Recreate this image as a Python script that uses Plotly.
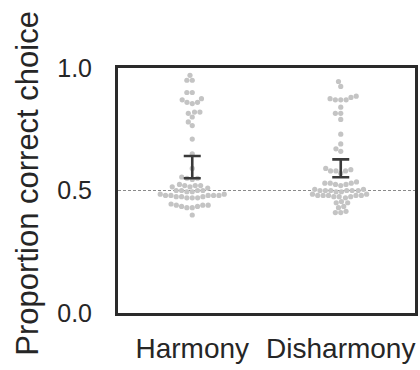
import numpy as np
import plotly.graph_objects as go

categories = ["Harmony", "Disharmony"]

harmony = [0.97, 0.95, 0.95, 0.90, 0.90, 0.875, 0.87, 0.86, 0.86, 0.855,
           0.82, 0.82, 0.815, 0.80, 0.78, 0.765,
           0.71, 0.65, 0.59,
           0.555, 0.55, 0.55, 0.545,
           0.525, 0.52, 0.52, 0.52, 0.515, 0.515, 0.51,
           0.50, 0.50, 0.50, 0.50, 0.495, 0.495,
           0.485, 0.485, 0.48, 0.48, 0.48, 0.48, 0.48, 0.475, 0.475, 0.475, 0.47, 0.47, 0.47,
           0.445, 0.44, 0.44, 0.44, 0.435, 0.435, 0.43, 0.43,
           0.40]

disharmony = [0.945, 0.925,
              0.885, 0.875, 0.87, 0.87, 0.87, 0.88,
              0.84, 0.815, 0.815, 0.79,
              0.73, 0.69, 0.67, 0.66,
              0.59, 0.58, 0.58, 0.58, 0.585, 0.57,
              0.535, 0.53, 0.53, 0.525, 0.525, 0.53, 0.52,
              0.505, 0.50, 0.50, 0.50, 0.50, 0.50, 0.495, 0.495, 0.50, 0.505,
              0.485, 0.48, 0.48, 0.48, 0.48, 0.475, 0.475, 0.48, 0.485, 0.47, 0.475,
              0.455, 0.45, 0.45,
              0.435, 0.43,
              0.415, 0.41, 0.41]

ci_low = [0.550, 0.554]
ci_high = [0.641, 0.627]

chance_level = 0.5

# geometry used by the swarm layout (pixels)
PLOT_W, PLOT_H = 297, 245
X_RANGE = [-0.5, 1.5]
Y_RANGE = [0.0, 1.0]
PX_PER_X = PLOT_W / (X_RANGE[1] - X_RANGE[0])
PX_PER_Y = PLOT_H / (Y_RANGE[1] - Y_RANGE[0])
DOT = 5.4


def beeswarm(vals, d=DOT):
    vals = np.asarray(vals, float)
    ys = vals * PX_PER_Y
    order = np.argsort(ys, kind="stable")
    xs = np.zeros(len(vals))
    placed = []
    for i in order:
        y = ys[i]
        neigh = [(px, py) for px, py in placed if abs(py - y) < d]
        cands = [0.0]
        for px, py in neigh:
            dx = np.sqrt(max(d * d - (py - y) ** 2, 0.0))
            cands += [px - dx, px + dx]
        cands = sorted(cands, key=lambda c: (abs(c), c))
        for c in cands:
            if all((c - px) ** 2 + (y - py) ** 2 >= d * d - 1e-6 for px, py in neigh):
                xs[i] = c
                break
        placed.append((xs[i], y))
    return xs / PX_PER_X


fig = go.Figure()

for k, vals in enumerate([harmony, disharmony]):
    off = beeswarm(vals)
    fig.add_trace(go.Scatter(
        x=k + off, y=vals, mode="markers",
        marker=dict(size=5.2, color="#c4c4c4", line=dict(width=0)),
        showlegend=False, hoverinfo="y"))

mid = [(a + b) / 2 for a, b in zip(ci_low, ci_high)]
fig.add_trace(go.Scatter(
    x=[0, 1], y=mid, mode="markers",
    marker=dict(size=1, color="rgba(0,0,0,0)"),
    error_y=dict(type="data", symmetric=False,
                 array=[h - m for h, m in zip(ci_high, mid)],
                 arrayminus=[m - l for m, l in zip(mid, ci_low)],
                 color="#3a3a3a", thickness=2.6, width=8.5),
    showlegend=False))

fig.add_shape(type="line", xref="paper", yref="y", x0=0, x1=1,
              y0=chance_level, y1=chance_level,
              line=dict(color="#8a8a8a", width=1, dash="3px,2px"), layer="below")

fig.add_annotation(text="Proportion correct choice", xref="paper", yref="paper",
                   x=-0.303, y=0.528, textangle=-90, showarrow=False,
                   xanchor="center", yanchor="middle",
                   font=dict(size=31, color="#262626"))

fig.update_layout(
    width=420, height=370,
    margin=dict(l=118, r=5, t=68, b=57, autoexpand=False),
    paper_bgcolor="white", plot_bgcolor="white",
    font=dict(family="Liberation Sans, Arial, sans-serif", color="#262626"),
    xaxis=dict(range=X_RANGE, tickvals=[0, 1], ticktext=categories,
               showgrid=False, zeroline=False, ticks="", automargin=False,
               showline=True, mirror=True, linewidth=3, linecolor="#2a2a2a",
               tickfont=dict(size=28, color="#262626"), ticklabelstandoff=8),
    yaxis=dict(range=Y_RANGE, tickvals=[0, 0.5, 1.0], ticktext=["0.0", "0.5", "1.0"],
               showgrid=False, zeroline=False, ticks="", automargin=False,
               showline=True, mirror=True, linewidth=3, linecolor="#2a2a2a",
               tickfont=dict(size=25, color="#262626"), ticklabelstandoff=18),
)

fig.write_html("out.html", config={"displayModeBar": False},
               post_script="document.body.style.margin='0px';document.body.style.overflow='hidden';")
